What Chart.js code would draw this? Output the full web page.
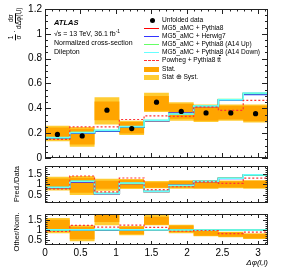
<!DOCTYPE html>
<html>
<head>
<meta charset="utf-8">
<script src="https://cdn.jsdelivr.net/npm/chart.js@4.4.1/dist/chart.umd.min.js"></script>
<style>
  body { margin: 0; background: #fff; width: 283px; height: 273px; position: relative; overflow: hidden;
         font-family: "Liberation Sans", Arial, sans-serif; }
  canvas { position: absolute; left: 0; }
  .t { position: absolute; white-space: nowrap; color: #000; line-height: 1; }
  .leg { position: absolute; left: 162px; font-size: 6.6px; line-height: 1; white-space: nowrap; }
  .sw { position: absolute; left: 144px; width: 15px; }
  .rot { position: absolute; transform: translate(-50%, -50%) rotate(-90deg); white-space: nowrap; line-height: 1; }
  .frac { display: inline-flex; flex-direction: column; align-items: center; vertical-align: middle; }
  .frac span:first-child { border-bottom: 0.6px solid #000; padding: 0 1px; }
</style>
</head>
<body>
<canvas id="main" width="283" height="167" style="top:0"></canvas>
<canvas id="ratio1" width="283" height="55" style="top:157px"></canvas>
<canvas id="ratio2" width="283" height="68" style="top:205px"></canvas>

<!-- annotation -->
<div class="t" style="left:54px;top:19px;font-size:7.5px;font-weight:bold;font-style:italic">ATLAS</div>
<div class="t" style="left:54px;top:29px;font-size:7px">√s = 13 TeV, 36.1 fb<sup style="font-size:5px">-1</sup></div>
<div class="t" style="left:54px;top:38.5px;font-size:7px">Normalized cross-section</div>
<div class="t" style="left:54px;top:48px;font-size:7px">Dilepton</div>

<!-- legend -->
<div class="sw" style="left:150px;top:17.5px;width:5px;height:5px;border-radius:50%;background:#000"></div>
<div class="leg" style="top:16.5px">Unfolded data</div>
<div class="sw" style="top:28px;border-top:1.5px solid #ff0000"></div>
<div class="leg" style="top:25px">MG5_aMC + Pythia8</div>
<div class="sw" style="top:35.5px;border-top:1.5px solid #3333ff"></div>
<div class="leg" style="top:32.5px">MG5_aMC + Herwig7</div>
<div class="sw" style="top:43.5px;border-top:1.5px solid #66ff66"></div>
<div class="leg" style="top:40.5px">MG5_aMC + Pythia8 (A14 Up)</div>
<div class="sw" style="top:51.5px;border-top:1.5px solid #66ffff"></div>
<div class="leg" style="top:48.5px">MG5_aMC + Pythia8 (A14 Down)</div>
<div class="sw" style="top:59.5px;border-top:1.5px dashed #ff3333"></div>
<div class="leg" style="top:57px">Powheg + Pythia8 t<span style="text-decoration:overline">t</span></div>
<div class="sw" style="top:66.5px;height:5px;background:#ffa500"></div>
<div class="leg" style="top:65.5px">Stat.</div>
<div class="sw" style="top:74.5px;height:5px;background:#ffcc33"></div>
<div class="leg" style="top:73.5px">Stat ⊕ Syst.</div>

<!-- axis titles -->
<div class="rot" style="left:15px;top:24px;font-size:6.5px">
  <span class="frac"><span>1</span><span>σ</span></span> · <span class="frac"><span>dσ</span><span>dΔφ(l,l)</span></span>
</div>
<div class="rot" style="left:16.5px;top:184px;font-size:7.5px">Pred./Data</div>
<div class="rot" style="left:16.5px;top:232px;font-size:7.5px">Other/Nom.</div>
<div class="t" style="right:15px;top:259px;font-size:8px;font-style:italic">Δφ(l,l)</div>

<script>
// binning in delta phi
const binEdges = [0, 0.349, 0.698, 1.047, 1.396, 1.745, 2.094, 2.443, 2.793, 3.142];
const binCenters = [0.175, 0.524, 0.873, 1.222, 1.571, 1.920, 2.269, 2.618, 2.967];

// unfolded data and its bands
const dataVals = [0.19, 0.178, 0.385, 0.237, 0.45, 0.375, 0.363, 0.363, 0.357];
const statLo = [0.15, 0.108, 0.305, 0.197, 0.38, 0.317, 0.30, 0.31, 0.296];
const statHi = [0.245, 0.235, 0.455, 0.29, 0.50, 0.437, 0.42, 0.42, 0.42];
const systLo = [0.135, 0.09, 0.27, 0.185, 0.37, 0.30, 0.29, 0.30, 0.285];
const systHi = [0.26, 0.25, 0.49, 0.30, 0.525, 0.45, 0.43, 0.43, 0.43];

// predictions
const mgPy8 = [0.162, 0.203, 0.218, 0.25, 0.30, 0.357, 0.42, 0.47, 0.52];
const mgHw7 = [0.16, 0.20, 0.215, 0.248, 0.30, 0.362, 0.415, 0.465, 0.512];
const mgA14Up = [0.163, 0.205, 0.222, 0.252, 0.302, 0.355, 0.42, 0.472, 0.52];
const mgA14Down = [0.165, 0.206, 0.224, 0.254, 0.304, 0.355, 0.418, 0.47, 0.523];
const powPy8 = [0.15, 0.25, 0.25, 0.31, 0.34, 0.335, 0.41, 0.384, 0.464];

const xTickLabels = [0, 0.5, 1, 1.5, 2, 2.5, 3];
const mainYTicks = [0, 0.2, 0.4, 0.6, 0.8, 1, 1.2];
const ratioYTicks = [0.5, 1, 1.5];

function step(vals) {
  const pts = [];
  vals.forEach((v, i) => pts.push({ x: binEdges[i], y: v }, { x: binEdges[i + 1], y: v }));
  return pts;
}
const over = (a, b) => a.map((v, i) => v / b[i]);

// ATLAS-style frame with inward ticks on all sides
const frameTicks = {
  id: "frameTicks",
  afterDraw(chart, args, o) {
    const { ctx, chartArea: a, scales: { x, y } } = chart;
    ctx.save();
    ctx.strokeStyle = "#222";
    ctx.lineWidth = 1;
    ctx.strokeRect(a.left + 0.5, a.top + 0.5, a.width - 1, a.height - 1);
    ctx.beginPath();
    for (let i = 0; i <= 31; i++) {
      const px = Math.round(x.getPixelForValue(i / 10)) + 0.5;
      const len = i % 5 === 0 ? o.xMajor : o.xMajor / 2;
      ctx.moveTo(px, a.bottom); ctx.lineTo(px, a.bottom - len);
      ctx.moveTo(px, a.top); ctx.lineTo(px, a.top + len);
    }
    const n0 = Math.ceil(y.min / o.yStep - 1e-6), n1 = Math.floor(y.max / o.yStep + 1e-6);
    for (let i = n0; i <= n1; i++) {
      const py = Math.round(y.getPixelForValue(i * o.yStep)) + 0.5;
      const len = i % o.yEvery === 0 ? o.yMajor : o.yMajor / 2;
      ctx.moveTo(a.left, py); ctx.lineTo(a.left + len, py);
      ctx.moveTo(a.right, py); ctx.lineTo(a.right - len, py);
    }
    ctx.stroke();
    ctx.restore();
  },
};

function makePanel(id, norm, showPoints, yMin, yMax, yTicks, showX, pad, tickOpts) {
  const f = (arr) => step(norm ? over(arr, norm) : arr);
  const datasets = [
    { data: f(systLo), borderWidth: 0, pointRadius: 0, fill: false, order: 9 },
    { data: f(systHi), borderWidth: 0, pointRadius: 0, fill: "-1", backgroundColor: "#ffcc33", order: 8 },
    { data: f(statLo), borderWidth: 0, pointRadius: 0, fill: false, order: 7 },
    { data: f(statHi), borderWidth: 0, pointRadius: 0, fill: "-1", backgroundColor: "#ffa500", order: 6 },
    { data: f(mgPy8), borderColor: "#ff0000", borderWidth: 1.5, pointRadius: 0, fill: false, order: 5 },
    { data: f(mgHw7), borderColor: "#3333ff", borderWidth: 1.5, pointRadius: 0, fill: false, order: 4 },
    { data: f(mgA14Up), borderColor: "#66ff66", borderWidth: 1.5, pointRadius: 0, fill: false, order: 3 },
    { data: f(mgA14Down), borderColor: "#66ffff", borderWidth: 1.5, pointRadius: 0, fill: false, order: 2 },
    { data: f(powPy8), borderColor: "#ff3333", borderWidth: 1.2, borderDash: [2, 2], pointRadius: 0, fill: false, order: 1 },
  ];
  if (showPoints) {
    datasets.push({
      data: dataVals.map((v, i) => ({ x: binCenters[i], y: v })),
      showLine: false, pointRadius: 2.6, pointBackgroundColor: "#000", pointBorderWidth: 0, order: 0,
    });
  }
  const font = { family: "'Liberation Sans', Arial, sans-serif", size: 10 };
  return new Chart(document.getElementById(id), {
    type: "line",
    data: { datasets },
    options: {
      responsive: false,
      animation: false,
      devicePixelRatio: 1,
      events: [],
      layout: { padding: pad },
      plugins: { legend: { display: false }, tooltip: { enabled: false }, frameTicks: tickOpts },
      scales: {
        x: {
          type: "linear", min: 0, max: 3.142, display: showX,
          grid: { display: false, drawTicks: false }, border: { display: false },
          afterBuildTicks: (s) => { s.ticks = xTickLabels.map((v) => ({ value: v })); },
          ticks: { font, color: "#000", padding: 2, maxRotation: 0, callback: (v) => String(v) },
        },
        y: {
          min: yMin, max: yMax,
          grid: { display: false, drawTicks: false }, border: { display: false },
          afterFit: (s) => { s.width = 45; },
          afterBuildTicks: (s) => { s.ticks = yTicks.map((v) => ({ value: v })); },
          ticks: { font, color: "#000", padding: 3, callback: (v) => String(v) },
        },
      },
    },
    plugins: [frameTicks],
  });
}

// chart areas: main 9-158, ratio1 166-203, ratio2 214-245 (page px)
makePanel("main", null, true, 0, 1.2, mainYTicks, false,
  { top: 9, right: 15, bottom: 9, left: 0 }, { xMajor: 5, yStep: 0.05, yEvery: 4, yMajor: 6 });
makePanel("ratio1", dataVals, false, 0.12, 1.88, ratioYTicks, false,
  { top: 9, right: 15, bottom: 9, left: 0 }, { xMajor: 4, yStep: 0.1, yEvery: 5, yMajor: 5 });
makePanel("ratio2", mgPy8, false, 0.25, 1.8, ratioYTicks, true,
  { top: 9, right: 15, bottom: 12, left: 0 }, { xMajor: 4, yStep: 0.1, yEvery: 5, yMajor: 5 });
</script>
</body>
</html>
